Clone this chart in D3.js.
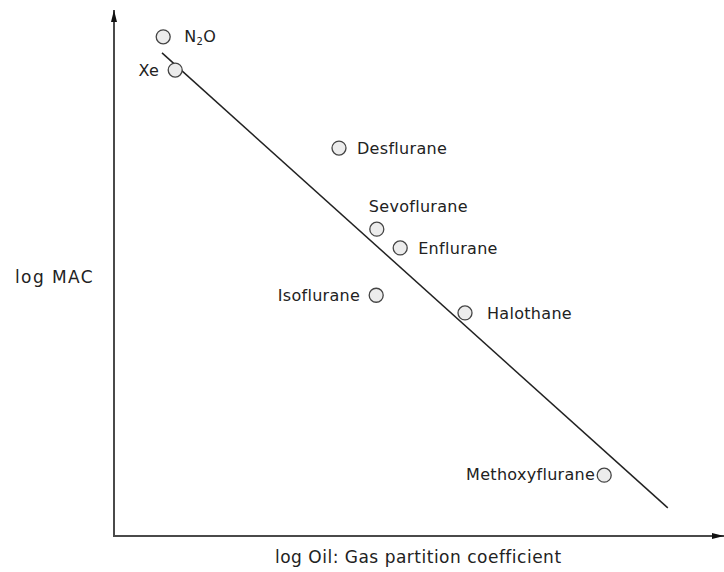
<!DOCTYPE html>
<html>
<head>
<meta charset="utf-8">
<script src="https://cdn.jsdelivr.net/npm/d3@7"></script>
<style>
  html, body { margin: 0; padding: 0; background: #fff; }
  svg { display: block; }
  text { font-family: "DejaVu Sans", sans-serif; fill: #222; }
</style>
</head>
<body>
<svg id="chart" width="724" height="572"></svg>
<script>
// ---- data (arbitrary log units) ----
const agents   = ["N2O", "Xe", "Desflurane", "Sevoflurane", "Enflurane", "Isoflurane", "Halothane", "Methoxyflurane"];
const logOilGas = [0.82, 1.02, 3.75, 4.38, 4.77, 4.37, 5.85, 8.17];
const logMAC    = [9.60, 8.96, 7.46, 5.90, 5.54, 4.63, 4.29, 1.17];
const fitX = [0.80, 9.23];
const fitY = [9.29, 0.54];
const xTitle = "log Oil: Gas partition coefficient";
const yTitle = "log MAC";

// label placement (style, not data)
const labelSide = ["right", "left", "right", "above", "right", "left", "right", "left"];

const svg = d3.select("#chart");
const x = d3.scaleLinear().domain([0, 10]).range([114, 714]);
const y = d3.scaleLinear().domain([0, 10]).range([536, 16]);

const axisColor = "#4a4a4a";

// arrow markers
const defs = svg.append("defs");
defs.append("marker").attr("id", "arr")
  .attr("viewBox", "0 0 12 8").attr("refX", 12).attr("refY", 4)
  .attr("markerWidth", 12).attr("markerHeight", 8)
  .attr("markerUnits", "userSpaceOnUse").attr("orient", "auto")
  .append("path").attr("d", "M0,1 L12,4 L0,7 Z").attr("fill", "#111");

// axes (no ticks in the original)
svg.append("line")
  .attr("x1", x(0)).attr("y1", y(0)).attr("x2", x(0)).attr("y2", 10)
  .attr("stroke", axisColor).attr("stroke-width", 2).attr("marker-end", "url(#arr)");
svg.append("line")
  .attr("x1", x(0) - 1).attr("y1", y(0)).attr("x2", 724).attr("y2", y(0))
  .attr("stroke", axisColor).attr("stroke-width", 2).attr("marker-end", "url(#arr)");

// axis titles
svg.append("text").attr("x", 15).attr("y", 283)
  .attr("font-size", 17).attr("letter-spacing", 1.4).text(yTitle);
svg.append("text").attr("x", 275).attr("y", 563)
  .attr("font-size", 17).attr("letter-spacing", 0.5).text(xTitle);

// regression line
svg.append("line")
  .attr("x1", x(fitX[0])).attr("y1", y(fitY[0]))
  .attr("x2", x(fitX[1])).attr("y2", y(fitY[1]))
  .attr("stroke", "#222").attr("stroke-width", 1.5);

// points
const data = agents.map((a, i) => ({ name: a, x: logOilGas[i], y: logMAC[i], side: labelSide[i] }));
const g = svg.append("g");
g.selectAll("circle").data(data).enter().append("circle")
  .attr("cx", d => x(d.x)).attr("cy", d => y(d.y)).attr("r", 7)
  .attr("fill", "#ececec").attr("stroke", "#444").attr("stroke-width", 1.3);

// labels
const lab = g.selectAll("text.lab").data(data).enter().append("text")
  .attr("class", "lab").attr("font-size", 16).attr("letter-spacing", 0.3)
  .attr("x", d => {
    const cx = x(d.x);
    if (d.side === "right") return cx + (d.name === "N2O" ? 21 : (d.name === "Halothane" ? 22 : 18));
    if (d.side === "left") return cx - (d.name === "Methoxyflurane" ? 9 : 16);
    return cx - 8;
  })
  .attr("y", d => {
    const cy = y(d.y);
    if (d.side === "above") return cy - 17;
    if (d.name === "N2O" || d.name === "Methoxyflurane") return cy + 5;
    return cy + 6;
  })
  .attr("text-anchor", d => d.side === "left" ? "end" : "start");

lab.each(function(d) {
  const t = d3.select(this);
  if (d.name === "N2O") {
    t.append("tspan").text("N");
    t.append("tspan").attr("font-size", 10).attr("dy", 3).text("2");
    t.append("tspan").attr("dy", -3).text("O");
  } else {
    t.text(d.name);
  }
});
</script>
</body>
</html>
